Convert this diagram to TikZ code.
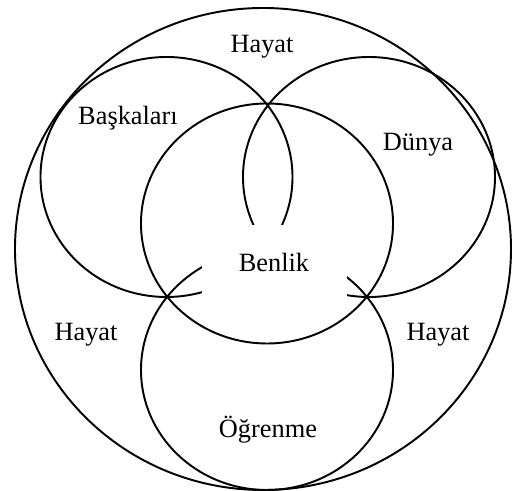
\documentclass[tikz,border=0pt]{standalone}
\usepackage{fontspec}
\setmainfont{Liberation Serif}
\usepackage{tikz}
\usetikzlibrary{positioning}

\tikzset{
  ring/.style={draw=black, line width=1.1pt},
  lab/.style={font=\fontsize{15}{18}\selectfont, inner sep=1pt}
}

\begin{document}
\begin{tikzpicture}[x=1cm, y=1cm]
  \useasboundingbox (0,0) rectangle (10.24,9.82);

  %% outer ring
  \draw[ring] (5.26,4.84) ellipse [x radius=4.96, y radius=4.82];

  %% three outer circles
  \foreach \cx/\cy in {3.33/6.28, 7.38/6.28, 5.34/2.42}{
    \draw[ring] (\cx,\cy) ellipse [x radius=2.52, y radius=2.40];
  }

  %% centre label hides the inner arcs
  \node[lab, fill=white, minimum width=2.9cm, minimum height=1.5cm, inner sep=0pt] (benlik) at (5.48,4.57) {Benlik};

  %% centre circle
  \draw[ring] (5.34,5.35) ellipse [x radius=2.52, y radius=2.40];

  %% labels
  \node[lab] (hayattop) at (5.24,8.88) {Hayat};
  \node[lab] (baskalari) at (2.56,7.46) {Başkaları};
  \node[lab] (dunya) at (8.36,6.92) {Dünya};
  \node[lab] (hayatleft) at (1.72,3.12) {Hayat};
  \node[lab] (hayatright) at (8.76,3.12) {Hayat};
  \node[lab] (ogrenme) at (5.36,1.22) {Öğrenme};

\end{tikzpicture}
\end{document}
